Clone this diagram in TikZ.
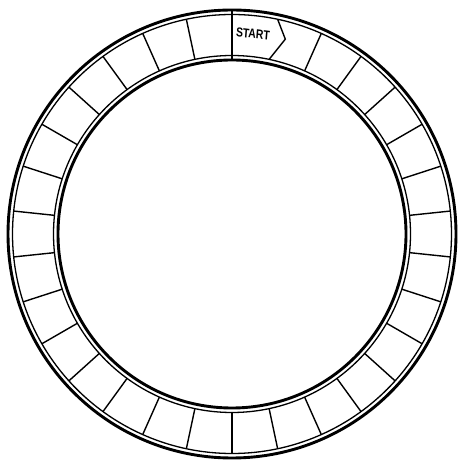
\documentclass[tikz,border=0pt]{standalone}
\usepackage{fontspec}
\setmainfont{Liberation Sans}
\begin{document}
\begin{tikzpicture}[x=1pt,y=1pt,
  thickring/.style={line width=2.9pt},
  thinring/.style={line width=1.3pt},
  spoke/.style={line width=1.4pt},
  startline/.style={line width=2.4pt},
  startlabel/.style={font=\fontsize{13}{13}\selectfont\bfseries, xscale=0.8, inner sep=0pt}]
\useasboundingbox (0,0) rectangle (469,471);
\begin{scope}[shift={(232,237)}]
  \coordinate (c) at (0,0);
  \draw[thickring] (c) circle[radius=224];
  \draw[thinring] (c) circle[radius=219.5];
  \draw[thinring] (c) circle[radius=178.5];
  \draw[thickring] (c) circle[radius=174];
  \foreach \k in {1,...,28} {
    \draw[spoke] (90+12*\k:178.5) -- (90+12*\k:219.5);
  }
  \draw[startline] (90:174) -- (90:224);
  \draw[spoke, line join=miter] (78:219.5) -- (74.7:202) -- (78:178.5);
  \node[startlabel, rotate=-6] (start) at (84:201) {START};
\end{scope}
\end{tikzpicture}
\end{document}
